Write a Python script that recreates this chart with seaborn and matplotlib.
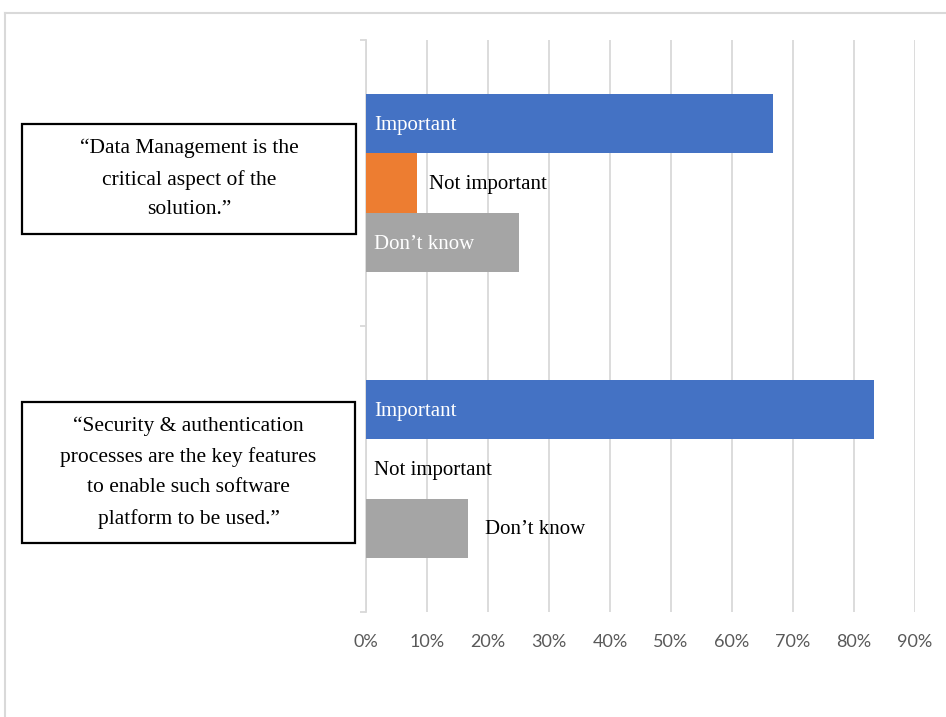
import matplotlib
matplotlib.use("Agg")
import matplotlib.pyplot as plt
from matplotlib.patches import Rectangle
from matplotlib.lines import Line2D
from matplotlib.ticker import PercentFormatter
import seaborn as sns
import pandas as pd

# ---- data ----
statements = [
    "\u201cData Management is the\ncritical aspect of the\nsolution.\u201d",
    "\u201cSecurity & authentication\nprocesses are the key features\nto enable such software\nplatform to be used.\u201d",
]
responses = ["Important", "Not important", "Don\u2019t know"]
important = [0.667, 0.833]
not_important = [0.083, 0.0]
dont_know = [0.25, 0.167]
x_ticks = [0, 0.1, 0.2, 0.3, 0.4, 0.5, 0.6, 0.7, 0.8, 0.9]
colors = ["#4472C4", "#ED7D31", "#A5A5A5"]

rows = []
for i, s in enumerate(statements):
    for r, vals in zip(responses, [important, not_important, dont_know]):
        rows.append({"statement": s, "response": r, "value": vals[i]})
df = pd.DataFrame(rows)

W, H = 946, 717
fig = plt.figure(figsize=(W / 100, H / 100), dpi=100)
fig.patch.set_facecolor("white")
ax = fig.add_axes([366 / W, 1 - 612 / H, (915 - 366) / W, (612 - 40) / H])

sns.barplot(data=df, y="statement", x="value", hue="response",
            order=statements, hue_order=responses, palette=colors,
            saturation=1, orient="h", width=0.62, gap=0, linewidth=0,
            legend=False, errorbar=None, ax=ax, zorder=3)

ax.set_xlim(0, 0.9)
ax.set_ylim(1.5, -0.5)
ax.set_xticks(x_ticks)
ax.xaxis.set_major_formatter(PercentFormatter(1.0, decimals=0))
ax.grid(axis="x", color="#D9D9D9", linewidth=1.3, zorder=0)
ax.grid(axis="y", visible=False)
ax.set_axisbelow(True)
ax.set_xlabel("")
ax.set_ylabel("")
for sp in ["top", "right", "bottom"]:
    ax.spines[sp].set_visible(False)
ax.spines["left"].set_color("#D9D9D9")
ax.spines["left"].set_linewidth(1.3)
ax.set_yticks([])
ax.set_yticks([-0.5, 0.5, 1.5], minor=True)
ax.tick_params(axis="y", which="minor", length=4, width=1.3, color="#D9D9D9", labelleft=False)
ax.tick_params(axis="x", length=0, pad=16, labelsize=13, labelcolor="#595959")
for lbl in ax.get_xticklabels():
    lbl.set_fontfamily(["Lato", "DejaVu Sans"])

# ---- bar labels ----
serif = ["Liberation Serif", "DejaVu Serif"]
for cont, resp in zip(ax.containers, responses):
    for bar in cont:
        v = bar.get_width()
        yc = bar.get_y() + bar.get_height() / 2
        if v >= 0.2:
            ax.annotate(resp, (0, yc), xytext=(6, -1.5), textcoords="offset points",
                        ha="left", va="center", color="white", fontsize=15,
                        family=serif, zorder=5)
        else:
            off = 9 if v > 0 else 6
            if resp == "Don\u2019t know":
                off = 12
            ax.annotate(resp, (v, yc), xytext=(off, -1), textcoords="offset points",
                        ha="left", va="center", color="black", fontsize=15,
                        family=serif, zorder=5)

# ---- statement boxes ----
boxes = [(22, 124, 356, 234), (22, 402, 355, 543)]
for s, (x0, y0, x1, y1) in zip(statements, boxes):
    fig.patches.append(Rectangle((x0 / W, 1 - y1 / H), (x1 - x0) / W, (y1 - y0) / H,
                                 transform=fig.transFigure, fill=False,
                                 edgecolor="black", linewidth=1.6))
    fig.text((x0 + x1) / 2 / W, 1 - (y0 + y1) / 2 / H, s, ha="center", va="center",
             fontsize=15.5, family=serif, linespacing=1.78, color="black")

# ---- outer frame ----
fig.add_artist(Line2D([5 / W, 1], [1 - 13 / H, 1 - 13 / H], transform=fig.transFigure,
                      color="#D9D9D9", linewidth=1.5))
fig.add_artist(Line2D([5 / W, 5 / W], [0, 1 - 13 / H], transform=fig.transFigure,
                      color="#D9D9D9", linewidth=1.5))

fig.savefig("out.png", dpi=100)
